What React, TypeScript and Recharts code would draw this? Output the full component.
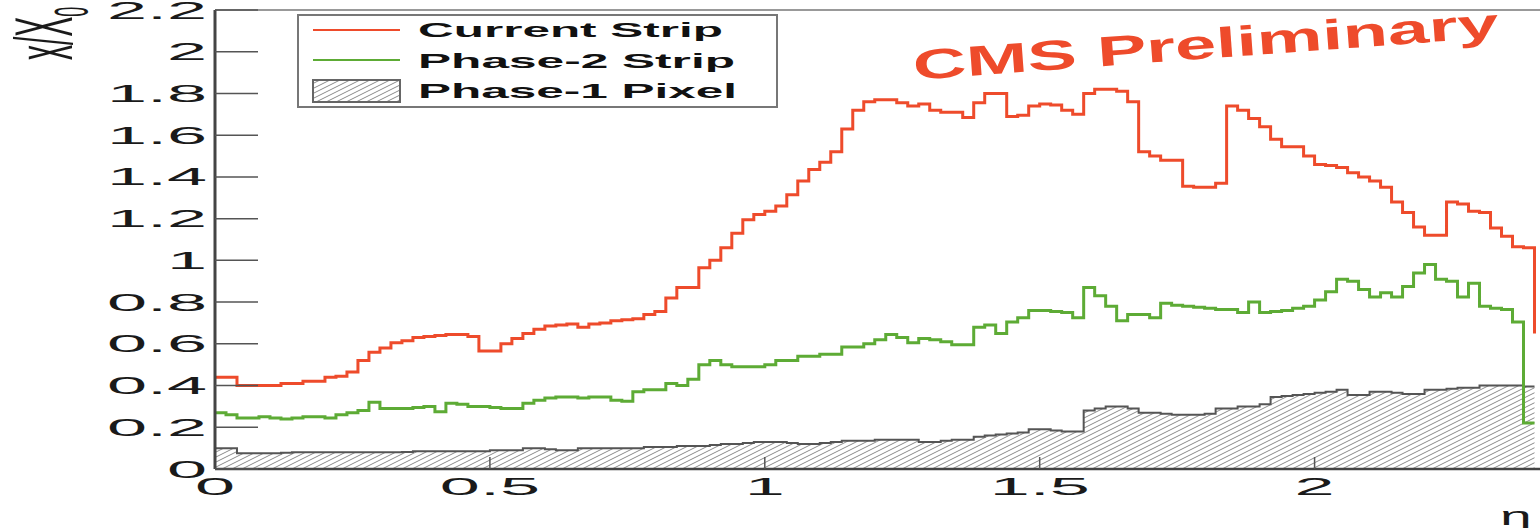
import React from 'react'
import { ComposedChart, Line, Area, XAxis, YAxis, ReferenceLine, Legend } from 'recharts'

// histogram binning in eta
const BIN_WIDTH = 0.02
const etaTicks = [0, 0.5, 1, 1.5, 2]
const x0Ticks = [0, 0.2, 0.4, 0.6, 0.8, 1, 1.2, 1.4, 1.6, 1.8, 2, 2.2]

// x/X0 per bin
const currentStrip = [
  0.44, 0.44, 0.40, 0.40, 0.40, 0.40, 0.41, 0.41, 0.42, 0.42,
  0.44, 0.445, 0.465, 0.52, 0.56, 0.58, 0.605, 0.615, 0.63, 0.635,
  0.64, 0.645, 0.645, 0.635, 0.565, 0.565, 0.60, 0.625, 0.65, 0.67,
  0.685, 0.69, 0.695, 0.68, 0.695, 0.70, 0.71, 0.715, 0.72, 0.74,
  0.755, 0.82, 0.87, 0.87, 0.965, 1.0, 1.06, 1.13, 1.195, 1.22,
  1.235, 1.26, 1.315, 1.38, 1.435, 1.47, 1.52, 1.63, 1.72, 1.76,
  1.77, 1.77, 1.755, 1.74, 1.75, 1.72, 1.71, 1.71, 1.685, 1.755,
  1.80, 1.80, 1.69, 1.695, 1.74, 1.75, 1.745, 1.72, 1.70, 1.80,
  1.82, 1.82, 1.81, 1.76, 1.52, 1.50, 1.48, 1.48, 1.355, 1.35,
  1.35, 1.37, 1.74, 1.72, 1.68, 1.64, 1.58, 1.545, 1.545, 1.50,
  1.46, 1.455, 1.445, 1.42, 1.40, 1.38, 1.35, 1.28, 1.23, 1.16,
  1.12, 1.12, 1.28, 1.27, 1.235, 1.23, 1.155, 1.115, 1.065, 1.06,
]

const phase2Strip = [
  0.27, 0.26, 0.245, 0.245, 0.25, 0.245, 0.24, 0.245, 0.25, 0.25,
  0.245, 0.26, 0.27, 0.28, 0.32, 0.29, 0.29, 0.29, 0.295, 0.30,
  0.275, 0.315, 0.31, 0.30, 0.30, 0.295, 0.29, 0.29, 0.315, 0.33,
  0.34, 0.345, 0.345, 0.34, 0.345, 0.345, 0.33, 0.325, 0.37, 0.38,
  0.38, 0.41, 0.40, 0.43, 0.50, 0.52, 0.50, 0.49, 0.49, 0.49,
  0.50, 0.52, 0.52, 0.54, 0.54, 0.55, 0.55, 0.585, 0.585, 0.60,
  0.62, 0.645, 0.63, 0.605, 0.625, 0.62, 0.61, 0.595, 0.595, 0.68,
  0.69, 0.65, 0.705, 0.725, 0.76, 0.76, 0.755, 0.75, 0.725, 0.87,
  0.83, 0.78, 0.71, 0.74, 0.74, 0.725, 0.795, 0.785, 0.78, 0.775,
  0.77, 0.765, 0.765, 0.75, 0.80, 0.75, 0.755, 0.76, 0.77, 0.78,
  0.81, 0.85, 0.91, 0.90, 0.86, 0.825, 0.845, 0.825, 0.875, 0.94,
  0.98, 0.91, 0.90, 0.825, 0.89, 0.78, 0.77, 0.765, 0.705, 0.22,
]

const phase1Pixel = [
  0.10, 0.10, 0.075, 0.075, 0.075, 0.075, 0.078, 0.08, 0.08, 0.08,
  0.08, 0.08, 0.08, 0.08, 0.08, 0.08, 0.08, 0.082, 0.085, 0.085,
  0.085, 0.085, 0.085, 0.085, 0.085, 0.09, 0.09, 0.09, 0.10, 0.10,
  0.095, 0.09, 0.09, 0.10, 0.10, 0.10, 0.10, 0.10, 0.10, 0.105,
  0.105, 0.105, 0.11, 0.11, 0.11, 0.115, 0.12, 0.12, 0.125, 0.13,
  0.13, 0.13, 0.125, 0.12, 0.12, 0.125, 0.13, 0.135, 0.135, 0.135,
  0.14, 0.14, 0.14, 0.14, 0.13, 0.13, 0.135, 0.14, 0.14, 0.155,
  0.16, 0.165, 0.17, 0.175, 0.19, 0.19, 0.185, 0.18, 0.18, 0.28,
  0.29, 0.30, 0.30, 0.29, 0.27, 0.27, 0.265, 0.26, 0.26, 0.26,
  0.265, 0.29, 0.29, 0.30, 0.30, 0.31, 0.345, 0.35, 0.355, 0.36,
  0.365, 0.37, 0.38, 0.355, 0.355, 0.37, 0.37, 0.365, 0.36, 0.36,
  0.38, 0.38, 0.385, 0.39, 0.39, 0.40, 0.40, 0.40, 0.40, 0.395,
]

// value after the last bin edge (eta = 2.4)
const endValues = { current: 0.65, phase2: 0.22, pixel: 0.395 }

const RED = '#ee4b2b'
const GREEN = '#5dab35'
const FONT = '"Liberation Sans", Arial, Helvetica, sans-serif'

const data = currentStrip.map((v, i) => ({
  eta: Number((i * BIN_WIDTH).toFixed(2)),
  current: v,
  phase2: phase2Strip[i],
  pixel: phase1Pixel[i],
}))
data.push({ eta: 2.4, ...endValues })

const YTick = ({ y, payload }: any) => (
  <text
    transform={`translate(207, ${y + 8.5}) scale(3, 1)`}
    textAnchor="end"
    fontSize={24}
    fontFamily={FONT}
    fill="#1a1a1a"
  >
    {payload.value}
  </text>
)

const XTick = ({ x, payload }: any) => (
  <text
    transform={`translate(${x}, 495) scale(3, 1)`}
    textAnchor="middle"
    fontSize={24}
    fontFamily={FONT}
    fill="#1a1a1a"
  >
    {payload.value}
  </text>
)

// ROOT style 3004-ish hatching, flattened by the horizontal stretch
function HatchDef({ id }: { id: string }) {
  return (
    <pattern id={id} patternUnits="userSpaceOnUse" width={10} height={5}>
      <path d="M0,5 L10,0 M-2,1 L2,-1 M8,6 L12,4" stroke="#8a8a8a" strokeWidth={1} />
    </pattern>
  )
}

const renderLegend = () => (
  <svg width={1540} height={528} style={{ position: 'absolute', left: 0, top: 0 }}>
    <defs>
      <HatchDef id="legendHatch" />
    </defs>
    <rect x={298} y={15} width={479} height={92} fill="#fff" stroke="#777" strokeWidth={2} />
    <line x1={313} x2={400} y1={30} y2={30} stroke={RED} strokeWidth={2} />
    <line x1={313} x2={400} y1={60} y2={60} stroke={GREEN} strokeWidth={2} />
    <rect x={313} y={80} width={87} height={22} fill="url(#legendHatch)" stroke="#666" strokeWidth={2} />
    {[
      { label: 'Current Strip', y: 37, len: 305 },
      { label: 'Phase-2 Strip', y: 68, len: 317 },
      { label: 'Phase-1 Pixel', y: 98, len: 319 },
    ].map((d) => (
      <text
        key={d.label}
        x={418}
        y={d.y}
        fontSize={21}
        fontWeight="bold"
        fontFamily={FONT}
        fill="#111"
        textLength={d.len}
        lengthAdjust="spacingAndGlyphs"
      >
        {d.label}
      </text>
    ))}
  </svg>
)

export default function App() {
  return (
    <div style={{ position: 'absolute', left: 0, top: 0, width: 1540, height: 528, background: '#fff' }}>
      <ComposedChart
        width={1540}
        height={528}
        data={data}
        margin={{ top: 10, right: 0, bottom: 0, left: 0 }}
      >
        <defs>
          <HatchDef id="pixelHatch" />
        </defs>
        <XAxis
          dataKey="eta"
          type="number"
          domain={[0, 2.41]}
          allowDataOverflow
          ticks={etaTicks}
          interval={0}
          height={59}
          tickSize={-12}
          tick={<XTick />}
          axisLine={{ stroke: '#444', strokeWidth: 2.5 }}
          tickLine={{ stroke: '#555', strokeWidth: 1.5 }}
        />
        <YAxis
          type="number"
          domain={[0, 2.2]}
          ticks={x0Ticks}
          interval={0}
          width={215}
          tickSize={-43}
          tick={<YTick />}
          axisLine={{ stroke: '#444', strokeWidth: 3 }}
          tickLine={{ stroke: '#555', strokeWidth: 1.5 }}
        />
        <ReferenceLine y={2.2} stroke="#999" strokeWidth={2} />
        <Area
          type="stepAfter"
          dataKey="pixel"
          name="Phase-1 Pixel"
          stroke="#555"
          strokeWidth={2}
          fill="url(#pixelHatch)"
          fillOpacity={1}
          baseValue={0}
          isAnimationActive={false}
        />
        <Line
          type="stepAfter"
          dataKey="phase2"
          name="Phase-2 Strip"
          stroke={GREEN}
          strokeWidth={3}
          dot={false}
          isAnimationActive={false}
        />
        <Line
          type="stepAfter"
          dataKey="current"
          name="Current Strip"
          stroke={RED}
          strokeWidth={3}
          dot={false}
          isAnimationActive={false}
        />
        <Legend
          layout="horizontal"
          verticalAlign="middle"
          align="center"
          wrapperStyle={{ position: 'absolute', left: 0, top: 0, width: 1540, height: 528, pointerEvents: 'none' }}
          content={renderLegend}
        />
      </ComposedChart>
      <svg
        width={1540}
        height={528}
        style={{ position: 'absolute', left: 0, top: 0, pointerEvents: 'none' }}
      >
        {/* y axis title, rotated and stretched like the original */}
        <text
          transform="translate(72, 60) scale(2.7, 1) rotate(-90)"
          fontSize={30}
          fontFamily={FONT}
          fill="#1a1a1a"
        >
          x/X
          <tspan fontSize={18} dy={6}>0</tspan>
        </text>
        <text
          transform="translate(914, 80) rotate(-4.2)"
          fontSize={42}
          fontWeight="bold"
          fontFamily={FONT}
          fill={RED}
          textLength={587}
          lengthAdjust="spacingAndGlyphs"
        >
          CMS Preliminary
        </text>
        <text
          transform="translate(1500, 525) scale(2.2, 1)"
          fontSize={26}
          fontFamily={FONT}
          fill="#1a1a1a"
        >
          η
        </text>
      </svg>
    </div>
  )
}
